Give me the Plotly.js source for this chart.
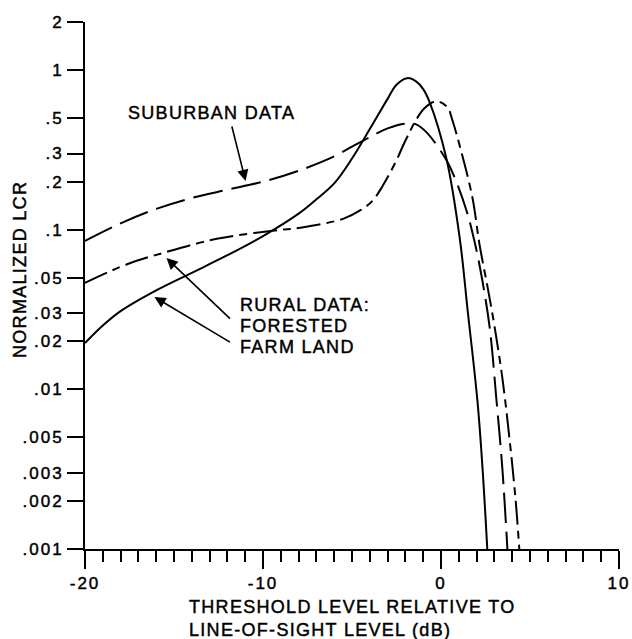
<!DOCTYPE html>
<html>
<head>
<meta charset="utf-8">
<script src="https://cdn.plot.ly/plotly-3.0.1.min.js"></script>
<style>
  html, body { margin: 0; padding: 0; background: #fff; }
  #chart { width: 632px; height: 639px; }
  .annotation-text { letter-spacing: 1.3px; stroke: #000; stroke-width: 0.45px; }
  .xtick text, .ytick text { letter-spacing: 2px; stroke: #000; stroke-width: 0.45px; }
</style>
</head>
<body>
<div id="chart"></div>
<script>
// Farm land (solid)
const farmX = [-20, -19, -18, -16, -14, -12, -10, -8, -7, -6, -5, -4, -3, -2.5, -1.9, -1.4, -1.0, -0.64, 0.3, 1.05, 1.5, 2.05, 2.35, 2.6];
const farmY = [0.0195, 0.0251, 0.0309, 0.0417, 0.0537, 0.0692, 0.0912, 0.126, 0.155, 0.195, 0.279, 0.427, 0.66, 0.81, 0.89, 0.85, 0.76, 0.63, 0.28, 0.089, 0.031, 0.0084, 0.003, 0.001];

// Forested (dash-dot)
const forestX = [-20, -17.6, -15.6, -12.6, -9.45, -7.9, -5.5, -4.5, -3.84, -3.28, -2.5, -2.16, -1.77, -1.49, -0.93, -0.25, 0.36, 0.64, 1.15, 1.77, 2.16, 2.65, 3.0, 3.45, 3.84, 4.18, 4.4];
const forestY = [0.0465, 0.061, 0.0716, 0.0877, 0.0986, 0.103, 0.117, 0.133, 0.152, 0.188, 0.272, 0.331, 0.407, 0.468, 0.577, 0.638, 0.585, 0.485, 0.305, 0.158, 0.0813, 0.0417, 0.0251, 0.0117, 0.005, 0.0021, 0.001];

// Suburban (long dash)
const suburbX = [-20, -18, -16, -14, -12, -10, -8, -6, -5, -4, -3, -2, -1.4, -0.81, 0.31, 0.9, 1.43, 1.77, 2.16, 2.72, 3.11, 3.45, 3.73];
const suburbY = [0.0851, 0.1096, 0.135, 0.158, 0.178, 0.2, 0.234, 0.288, 0.331, 0.38, 0.431, 0.462, 0.457, 0.407, 0.272, 0.195, 0.132, 0.0955, 0.0603, 0.0251, 0.0087, 0.00316, 0.001];

const yTickVals = [2, 1, 0.5, 0.3, 0.2, 0.1, 0.05, 0.03, 0.02, 0.01, 0.005, 0.003, 0.002, 0.001];
const yTickText = ['2', '1', '.5', '.3', '.2', '.1', '.05', '.03', '.02', '.01', '.005', '.003', '.002', '.001'];
const xTickVals = [-20, -10, 0, 10];
const xTickText = ['-20', '-10', '0', '10'];

const FONT = 'Liberation Sans, Arial, Helvetica, sans-serif';
const lineBase = { color: '#000', width: 2, shape: 'spline', smoothing: 1 };

const traces = [
  { x: farmX, y: farmY, mode: 'lines', name: 'Farm land', line: Object.assign({}, lineBase, { dash: 'solid' }) },
  { x: forestX, y: forestY, mode: 'lines', name: 'Forested', line: Object.assign({}, lineBase, { dash: '24px,6px,8px,6px' }) },
  { x: suburbX, y: suburbY, mode: 'lines', name: 'Suburban', line: Object.assign({}, lineBase, { dash: '30px,9px' }) }
];

const L = Math.log10;
const txt = (text, x, y) => ({ text: text, x: x, y: L(y), xref: 'x', yref: 'y', xanchor: 'left', yanchor: 'middle',
  showarrow: false, font: { family: FONT, size: 18, color: '#000' } });
const arrow = (hx, hy, tx, ty) => ({ text: '', x: hx, y: L(hy), ax: tx, ay: L(ty), xref: 'x', yref: 'y', axref: 'x', ayref: 'y',
  showarrow: true, arrowhead: 2, arrowsize: 1.4, arrowwidth: 1.6, arrowcolor: '#000', standoff: 0 });

const layout = {
  width: 632, height: 639,
  margin: { l: 85, r: 13, t: 22, b: 90 },
  paper_bgcolor: '#fff', plot_bgcolor: '#fff',
  showlegend: false,
  font: { family: FONT, size: 16, color: '#000' },
  xaxis: {
    range: [-20, 10], tickmode: 'array', tickvals: xTickVals, ticktext: xTickText,
    ticks: 'outside', ticklen: 18, tickwidth: 2, tickcolor: '#000',
    showline: true, linewidth: 2, linecolor: '#000', showgrid: false, zeroline: false,
    tickfont: { family: FONT, size: 17, color: '#000' },
    minor: { tickmode: 'linear', tick0: -20, dtick: 1, ticks: 'outside', ticklen: 11, tickwidth: 2, tickcolor: '#000', showgrid: false }
  },
  yaxis: {
    type: 'log', range: [-3, L(2)], tickmode: 'array', tickvals: yTickVals, ticktext: yTickText,
    ticks: 'outside', ticklen: 16, tickwidth: 2, tickcolor: '#000',
    showline: true, linewidth: 2, linecolor: '#000', showgrid: false, zeroline: false,
    tickfont: { family: FONT, size: 17, color: '#000' }
  },
  annotations: [
    txt('SUBURBAN DATA', -17.67, 0.54),
    txt('RURAL DATA:', -11.43, 0.0337),
    txt('FORESTED', -11.43, 0.0251),
    txt('FARM LAND', -11.43, 0.0185),
    arrow(-10.98, 0.202, -11.77, 0.453),
    arrow(-15.42, 0.0664, -11.77, 0.0272),
    arrow(-16.1, 0.0379, -11.77, 0.0195),
    { text: 'THRESHOLD LEVEL RELATIVE TO<br>LINE-OF-SIGHT LEVEL (dB)', xref: 'paper', yref: 'paper',
      x: 0.5, y: -0.088, xanchor: 'center', yanchor: 'top', align: 'left', showarrow: false,
      font: { family: FONT, size: 18, color: '#000' } },
    { text: 'NORMALIZED LCR', xref: 'paper', yref: 'paper', x: -0.122, y: 0.531, xanchor: 'center', yanchor: 'middle',
      textangle: -90, showarrow: false, font: { family: FONT, size: 18, color: '#000' } }
  ]
};

Plotly.newPlot('chart', traces, layout, { displayModeBar: false, staticPlot: true });
</script>
</body>
</html>
